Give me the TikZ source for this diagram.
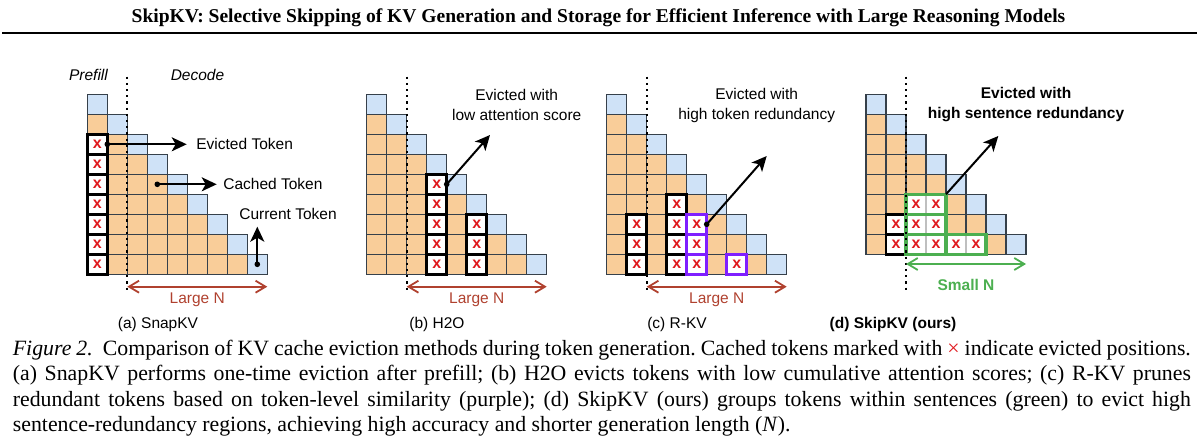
\documentclass[tikz,border=0pt]{standalone}
\usepackage{fontspec}
\setmainfont{Liberation Serif}
\setsansfont{Liberation Sans}
\usetikzlibrary{arrows.meta}
\definecolor{cellor}{HTML}{F9CD99}
\definecolor{cellbl}{HTML}{CFE2F7}
\definecolor{celledge}{HTML}{36404A}
\definecolor{evred}{HTML}{E0191E}
\definecolor{nred}{HTML}{B0412F}
\definecolor{sgreen}{HTML}{4CAF50}
\definecolor{rpurple}{HTML}{7F1FFF}
\newcommand\kvstairs[3]{%
  \foreach \c in {0,...,#3}{%
    \foreach \r in {\c,...,#3}{%
      \filldraw[cellb,fill=cellor] ({#1+20*\c},{#2+20*\r}) rectangle ++(20,20);}}%
  \foreach \c in {0,...,#3}{%
    \filldraw[cellb,fill=cellbl] ({#1+20*\c},{#2+20*\c}) rectangle ++(20,20);}}
\newcommand\kvev[6]{%
  \filldraw[#1] ({#2+20*#4},{#3+20*#5}) rectangle ++(20,20);
  \node[xmark] (#6) at ({#2+20*#4+10},{#3+20*#5+10}) {x};}
\frenchspacing
\begin{document}
\begin{tikzpicture}[x=0.5pt,y=-0.5pt,
  cellb/.style={draw=celledge,line width=0.75pt},
  evblk/.style={fill=white,draw=black,line width=1.25pt},
  evpur/.style={fill=white,draw=rpurple,line width=1.6pt},
  evgry/.style={fill=white,draw=black!25,line width=0.6pt},
  grbox/.style={draw=sgreen,line width=1.6pt},
  xmark/.style={font=\sffamily\bfseries\fontsize{8}{9}\selectfont,text=evred,inner sep=0pt},
  lbl/.style={font=\sffamily\fontsize{7.75}{10}\selectfont,inner sep=0pt,align=center},
  dotn/.style={circle,fill=black,inner sep=0pt,minimum size=2.8pt},
  blkarrow/.style={line width=1pt,-{Stealth[length=7.5pt,width=7pt,inset=2pt]}},
  narrow/.style={line width=0.9pt,{Straight Barb[length=5pt,width=6pt]}-{Straight Barb[length=5pt,width=6pt]}},
  sepline/.style={line width=1pt,dash pattern=on 1.1pt off 2pt}]
\useasboundingbox (0,0) rectangle (1199,444);

% title
\node[font=\bfseries\fontsize{9.77}{12}\selectfont,inner sep=0pt] (title) at (598.5,18)
  {SkipKV: Selective Skipping of KV Generation and Storage for Efficient Inference with Large Reasoning Models};
\draw[line width=1.1pt] (2,33) -- (1197,33);

% ---------- (a) SnapKV ----------
\kvstairs{87.3}{94.3}{8}
\foreach \r in {2,...,8}{\kvev{evblk}{87.3}{94.3}{0}{\r}{xa\r}}
\draw[sepline] (127.3,76.7) -- (127.3,293);
\node[lbl,font=\sffamily\itshape\fontsize{7.75}{10}\selectfont] (prefill) at (88.5,75) {Prefill};
\node[lbl,font=\sffamily\itshape\fontsize{7.75}{10}\selectfont] (decode) at (197.5,75) {Decode};
\node[dotn] (dev) at (107.3,144.3) {};
\coordinate (tev) at (186.7,144.3);
\node[lbl,anchor=west] (lev) at (196,144.3) {Evicted Token};
\draw[blkarrow] (dev.center) -- (tev);
\node[dotn] (dca) at (157.3,184.3) {};
\coordinate (tca) at (216.7,184.3);
\node[lbl,anchor=west] (lca) at (223,184.3) {Cached Token};
\draw[blkarrow] (dca.center) -- (tca);
\node[dotn] (dcu) at (257.3,264.3) {};
\coordinate (tcu) at (257.3,226.7);
\node[lbl] (lcu) at (288,214) {Current Token};
\draw[blkarrow] (dcu.center) -- (tcu);
\coordinate (na1) at (127.3,286.7);
\coordinate (na2) at (267.3,286.7);
\draw[narrow,nred] (na1) -- (na2);
\node[lbl,text=nred] (lna) at (197.3,300) {Large N};
\node[lbl] (capa) at (158,324) {(a) SnapKV};

% ---------- (b) H2O ----------
\kvstairs{366.7}{94.3}{8}
\foreach \r in {4,...,8}{\kvev{evblk}{366.7}{94.3}{3}{\r}{xb3\r}}
\foreach \r in {6,...,8}{\kvev{evblk}{366.7}{94.3}{5}{\r}{xb5\r}}
\draw[sepline] (406.7,76.7) -- (406.7,293);
\node[dotn] (db) at (446.7,184.3) {};
\coordinate (tb) at (490,135);
\draw[blkarrow] (db.center) -- (tb);
\node[lbl] (lb) at (516.7,105) {Evicted with\\low attention score};
\coordinate (nb1) at (406.7,286.7);
\coordinate (nb2) at (546.7,286.7);
\draw[narrow,nred] (nb1) -- (nb2);
\node[lbl,text=nred] (lnb) at (476.7,300) {Large N};
\node[lbl] (capb) at (437,324) {(b) H2O};

% ---------- (c) R-KV ----------
\kvstairs{606.7}{94.3}{8}
\foreach \r in {6,...,8}{\kvev{evblk}{606.7}{94.3}{1}{\r}{xc1\r}}
\foreach \r in {5,...,8}{\kvev{evblk}{606.7}{94.3}{3}{\r}{xc3\r}}
\foreach \r in {6,...,8}{\kvev{evpur}{606.7}{94.3}{4}{\r}{xc4\r}}
\kvev{evpur}{606.7}{94.3}{6}{8}{xc68}
\draw[sepline] (646.7,76.7) -- (646.7,293);
\node[dotn] (dc) at (706.7,224.3) {};
\coordinate (tc) at (766.7,156);
\draw[blkarrow] (dc.center) -- (tc);
\node[lbl] (lc) at (756.7,105) {Evicted with\\high token redundancy};
\coordinate (nc1) at (646.7,286.7);
\coordinate (nc2) at (786.7,286.7);
\draw[narrow,nred] (nc1) -- (nc2);
\node[lbl,text=nred] (lnc) at (716.7,300) {Large N};
\node[lbl] (capc) at (677,324) {(c) R-KV};

% ---------- (d) SkipKV ----------
\kvstairs{866}{94.3}{7}
\foreach \r in {6,7}{\kvev{evblk}{866}{94.3}{1}{\r}{xd1\r}}
\foreach \r in {5,6,7}{\kvev{evgry}{866}{94.3}{2}{\r}{xd2\r}\kvev{evgry}{866}{94.3}{3}{\r}{xd3\r}}
\kvev{evgry}{866}{94.3}{4}{7}{xd47}
\kvev{evgry}{866}{94.3}{5}{7}{xd57}
\draw[grbox] (906,194.3) rectangle (946,214.3);
\draw[grbox] (906,214.3) rectangle (946,234.3);
\draw[grbox] (906,234.3) rectangle (946,254.3);
\draw[grbox] (946,234.3) rectangle (986,254.3);
\draw[sepline] (906,76.7) -- (906,293);
\coordinate (dd) at (946,194.3);
\coordinate (td) at (998.3,136);
\draw[blkarrow] (dd) -- (td);
\node[lbl,font=\sffamily\bfseries\fontsize{7.75}{10}\selectfont] (ld) at (1026,105) {Evicted with\\high sentence redundancy};
\coordinate (nd1) at (906,264);
\coordinate (nd2) at (1026,264);
\draw[narrow,sgreen] (nd1) -- (nd2);
\node[lbl,text=sgreen,font=\sffamily\bfseries\fontsize{7.75}{10}\selectfont] (lnd) at (966,285) {Small N};
\node[lbl,font=\sffamily\bfseries\fontsize{7.75}{10}\selectfont] (capd) at (893,324) {(d) SkipKV (ours)};

% ---------- caption ----------
\node[anchor=base west,text width=589pt,align=justify,inner sep=0pt,font=\fontsize{10.9}{12.75}\selectfont] (cap) at (12.5,355)
{\textit{Figure 2.}\ \ Comparison of KV cache eviction methods during token generation. Cached tokens marked with {\color{evred}×} indicate evicted positions.\linebreak
(a) SnapKV performs one-time eviction after prefill; (b) H2O evicts tokens with low cumulative attention scores; (c) R-KV prunes\linebreak
redundant tokens based on token-level similarity (purple); (d) SkipKV (ours) groups tokens within sentences (green) to evict high\linebreak
sentence-redundancy regions, achieving high accuracy and shorter generation length (\textit{N}).};
\end{tikzpicture}
\end{document}
